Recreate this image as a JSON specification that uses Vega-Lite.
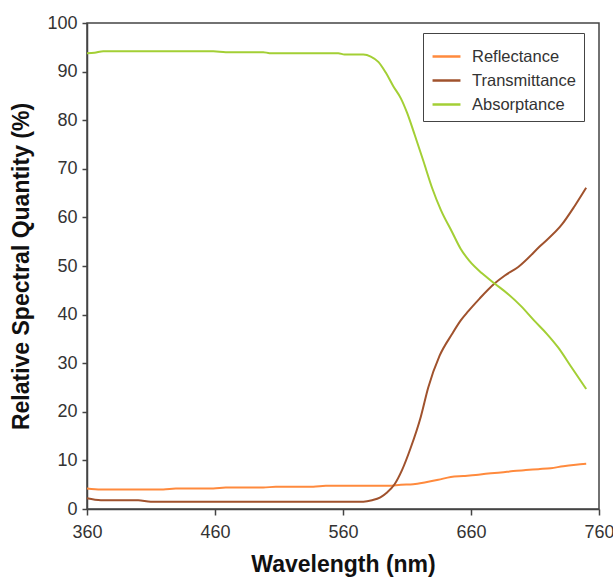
{
  "$schema": "https://vega.github.io/schema/vega-lite/v6.json",
  "width": 512,
  "height": 486,
  "autosize": "none",
  "padding": {"left": 87, "top": 23, "right": 14, "bottom": 68},
  "background": "white",
  "config": {
    "font": "Liberation Sans",
    "view": {"stroke": "#444444", "strokeWidth": 1.5},
    "axis": {"grid": false, "labelFlush": false, "domainColor": "#444444", "tickColor": "#444444", "labelColor": "#333333", "titleColor": "#111111", "labelFontSize": 18, "titleFontWeight": "bold", "domainWidth": 1.5, "tickWidth": 1.5}
  },
  "data": {"values": [
    {"nm": 360, "q": 4.2, "s": "Reflectance"},
    {"nm": 370.8, "q": 4.0, "s": "Reflectance"},
    {"nm": 400, "q": 4.0, "s": "Reflectance"},
    {"nm": 419.6, "q": 4.0, "s": "Reflectance"},
    {"nm": 429.4, "q": 4.2, "s": "Reflectance"},
    {"nm": 458.7, "q": 4.2, "s": "Reflectance"},
    {"nm": 468.4, "q": 4.4, "s": "Reflectance"},
    {"nm": 497.7, "q": 4.4, "s": "Reflectance"},
    {"nm": 507.5, "q": 4.6, "s": "Reflectance"},
    {"nm": 536.8, "q": 4.6, "s": "Reflectance"},
    {"nm": 546.6, "q": 4.8, "s": "Reflectance"},
    {"nm": 595.4, "q": 4.8, "s": "Reflectance"},
    {"nm": 605.2, "q": 5.0, "s": "Reflectance"},
    {"nm": 614.9, "q": 5.1, "s": "Reflectance"},
    {"nm": 624.7, "q": 5.5, "s": "Reflectance"},
    {"nm": 634.4, "q": 6.0, "s": "Reflectance"},
    {"nm": 644.2, "q": 6.6, "s": "Reflectance"},
    {"nm": 654, "q": 6.8, "s": "Reflectance"},
    {"nm": 663.7, "q": 7.0, "s": "Reflectance"},
    {"nm": 673.5, "q": 7.3, "s": "Reflectance"},
    {"nm": 683.3, "q": 7.5, "s": "Reflectance"},
    {"nm": 693, "q": 7.8, "s": "Reflectance"},
    {"nm": 702.8, "q": 8.0, "s": "Reflectance"},
    {"nm": 712.6, "q": 8.2, "s": "Reflectance"},
    {"nm": 722.3, "q": 8.4, "s": "Reflectance"},
    {"nm": 732.1, "q": 8.8, "s": "Reflectance"},
    {"nm": 741.9, "q": 9.1, "s": "Reflectance"},
    {"nm": 750, "q": 9.3, "s": "Reflectance"},
    {"nm": 360, "q": 2.2, "s": "Transmittance"},
    {"nm": 370.8, "q": 1.8, "s": "Transmittance"},
    {"nm": 400, "q": 1.8, "s": "Transmittance"},
    {"nm": 409.8, "q": 1.5, "s": "Transmittance"},
    {"nm": 497.7, "q": 1.5, "s": "Transmittance"},
    {"nm": 575.9, "q": 1.5, "s": "Transmittance"},
    {"nm": 582.7, "q": 1.8, "s": "Transmittance"},
    {"nm": 589.2, "q": 2.4, "s": "Transmittance"},
    {"nm": 594.4, "q": 3.4, "s": "Transmittance"},
    {"nm": 600.3, "q": 5.1, "s": "Transmittance"},
    {"nm": 606.1, "q": 8.0, "s": "Transmittance"},
    {"nm": 612.9, "q": 12.6, "s": "Transmittance"},
    {"nm": 620.8, "q": 19.0, "s": "Transmittance"},
    {"nm": 626.6, "q": 25.0, "s": "Transmittance"},
    {"nm": 635.4, "q": 31.5, "s": "Transmittance"},
    {"nm": 645.2, "q": 36.0, "s": "Transmittance"},
    {"nm": 652, "q": 38.8, "s": "Transmittance"},
    {"nm": 657.9, "q": 40.7, "s": "Transmittance"},
    {"nm": 666.7, "q": 43.3, "s": "Transmittance"},
    {"nm": 678.4, "q": 46.4, "s": "Transmittance"},
    {"nm": 686.2, "q": 48.0, "s": "Transmittance"},
    {"nm": 696.9, "q": 49.8, "s": "Transmittance"},
    {"nm": 713.6, "q": 54.0, "s": "Transmittance"},
    {"nm": 731.2, "q": 58.6, "s": "Transmittance"},
    {"nm": 740.9, "q": 62.3, "s": "Transmittance"},
    {"nm": 750, "q": 66.1, "s": "Transmittance"},
    {"nm": 360, "q": 93.8, "s": "Absorptance"},
    {"nm": 365.9, "q": 93.9, "s": "Absorptance"},
    {"nm": 372.7, "q": 94.2, "s": "Absorptance"},
    {"nm": 458.7, "q": 94.2, "s": "Absorptance"},
    {"nm": 468.4, "q": 94.0, "s": "Absorptance"},
    {"nm": 497.7, "q": 94.0, "s": "Absorptance"},
    {"nm": 502.6, "q": 93.8, "s": "Absorptance"},
    {"nm": 556.3, "q": 93.8, "s": "Absorptance"},
    {"nm": 561.2, "q": 93.5, "s": "Absorptance"},
    {"nm": 575.9, "q": 93.5, "s": "Absorptance"},
    {"nm": 581.7, "q": 93.1, "s": "Absorptance"},
    {"nm": 587.6, "q": 92.0, "s": "Absorptance"},
    {"nm": 593.4, "q": 89.8, "s": "Absorptance"},
    {"nm": 599.3, "q": 87.0, "s": "Absorptance"},
    {"nm": 605.2, "q": 84.5, "s": "Absorptance"},
    {"nm": 610.1, "q": 81.5, "s": "Absorptance"},
    {"nm": 616, "q": 77.0, "s": "Absorptance"},
    {"nm": 622.8, "q": 71.6, "s": "Absorptance"},
    {"nm": 629.7, "q": 66.0, "s": "Absorptance"},
    {"nm": 636.5, "q": 61.5, "s": "Absorptance"},
    {"nm": 645.2, "q": 57.0, "s": "Absorptance"},
    {"nm": 652, "q": 53.5, "s": "Absorptance"},
    {"nm": 658.9, "q": 51.0, "s": "Absorptance"},
    {"nm": 668.6, "q": 48.5, "s": "Absorptance"},
    {"nm": 678.4, "q": 46.4, "s": "Absorptance"},
    {"nm": 689.1, "q": 44.2, "s": "Absorptance"},
    {"nm": 698.9, "q": 41.8, "s": "Absorptance"},
    {"nm": 709.6, "q": 38.7, "s": "Absorptance"},
    {"nm": 719.4, "q": 36.0, "s": "Absorptance"},
    {"nm": 728.2, "q": 33.2, "s": "Absorptance"},
    {"nm": 738.9, "q": 29.0, "s": "Absorptance"},
    {"nm": 750, "q": 24.7, "s": "Absorptance"}
  ]},
  "mark": {"type": "line", "strokeWidth": 2, "interpolate": "monotone"},
  "encoding": {
    "x": {"field": "nm", "type": "quantitative", "title": "Wavelength (nm)",
      "scale": {"domain": [360, 760], "nice": false},
      "axis": {"values": [360, 460, 560, 660, 760], "tickSize": 6, "labelPadding": 8, "titleFontSize": 23, "titlePadding": 12}},
    "y": {"field": "q", "type": "quantitative", "title": "Relative Spectral Quantity (%)",
      "scale": {"domain": [0, 100], "nice": false},
      "axis": {"values": [0, 10, 20, 30, 40, 50, 60, 70, 80, 90, 100], "tickSize": 5, "labelPadding": 5, "titleFontSize": 23, "titlePadding": 13}},
    "color": {"field": "s", "type": "nominal", "title": null,
      "scale": {"domain": ["Reflectance", "Transmittance", "Absorptance"], "range": ["#ff8a3d", "#a0522d", "#a3cf35"]},
      "legend": {"orient": "none", "legendX": 336, "legendY": 10, "strokeColor": "#444444", "padding": 8, "symbolType": "stroke", "symbolSize": 780, "symbolStrokeWidth": 2.5, "labelFontSize": 16.5, "labelColor": "#333333", "rowPadding": 0, "labelOffset": 10}}
  }
}
